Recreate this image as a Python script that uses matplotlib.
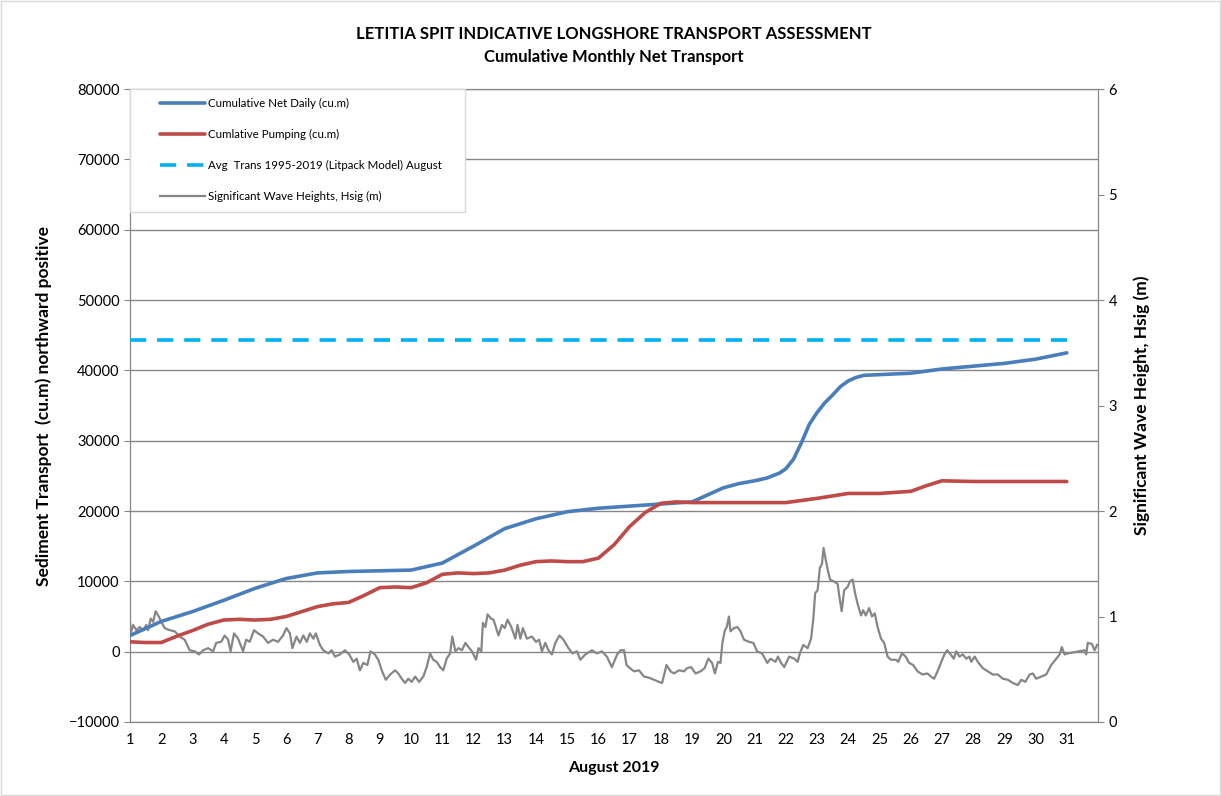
import matplotlib.pyplot as plt
from matplotlib.patches import Rectangle

plt.rcParams['font.family'] = ['Lato', 'DejaVu Sans']

# cumulative net daily transport (cu.m)
net_day = [1, 2, 3, 4, 5, 6, 7, 8, 9, 10, 11, 12, 13, 14, 15, 16, 17, 18, 19, 20,
           20.5, 21, 21.4, 21.8, 22, 22.25, 22.5, 22.75, 23, 23.25, 23.5, 23.75, 24,
           24.25, 24.5, 25, 26, 27, 28, 29, 30, 31]
net_vol = [2300, 4300, 5700, 7300, 9000, 10400, 11200, 11400, 11500, 11600, 12600,
           15000, 17500, 18900, 19900, 20400, 20700, 21000, 21300, 23300, 23900,
           24300, 24700, 25400, 26000, 27400, 29700, 32300, 34000, 35400, 36500,
           37700, 38500, 39000, 39300, 39400, 39600, 40200, 40600, 41000, 41600, 42500]

# cumulative pumping (cu.m)
pump_day = [1, 1.5, 2, 2.5, 3, 3.5, 4, 4.5, 5, 5.5, 6, 6.5, 7, 7.5, 8, 8.5, 9, 9.5,
            10, 10.5, 11, 11.5, 12, 12.5, 13, 13.5, 14, 14.5, 15, 15.5, 16, 16.5, 17,
            17.5, 18, 18.5, 19, 20, 21, 22, 23, 24, 25, 26, 26.5, 27, 28, 31]
pump_vol = [1400, 1300, 1300, 2200, 3000, 3900, 4500, 4600, 4500, 4600, 5000, 5700,
            6400, 6800, 7000, 8000, 9100, 9200, 9100, 9800, 11000, 11200, 11100, 11200,
            11600, 12300, 12800, 12900, 12800, 12800, 13300, 15200, 17800, 19800,
            21100, 21300, 21200, 21200, 21200, 21200, 21800, 22500, 22500, 22800,
            23600, 24300, 24200, 24200]

# long-term average transport for August
avg_day = [1, 31]
avg_vol = [44300, 44300]

# significant wave height (m)
wave_day = [1.00, 1.02, 1.10, 1.20, 1.31, 1.42, 1.52, 1.58, 1.66, 1.74, 1.82, 1.92,
            2.00, 2.11, 2.27, 2.43, 2.59, 2.75, 2.91, 3.07, 3.21, 3.34, 3.50, 3.66,
            3.76, 3.92, 4.03, 4.14, 4.22, 4.33, 4.46, 4.62, 4.72, 4.83, 4.97, 5.10,
            5.26, 5.42, 5.58, 5.74, 5.90, 6.01, 6.12, 6.20, 6.33, 6.44, 6.55, 6.66,
            6.76, 6.87, 6.95, 7.08, 7.19, 7.35, 7.46, 7.56, 7.72, 7.88, 8.02, 8.15,
            8.26, 8.36, 8.47, 8.60, 8.70, 8.84, 8.95, 9.06, 9.19, 9.33, 9.49, 9.59,
            9.70, 9.81, 9.91, 10.02, 10.13, 10.26, 10.39, 10.50, 10.61, 10.71, 10.82,
            10.93, 11.03, 11.14, 11.25, 11.32, 11.42, 11.52, 11.63, 11.74, 11.84,
            11.95, 12.08, 12.16, 12.25, 12.30, 12.38, 12.45, 12.56, 12.64, 12.80,
            12.91, 13.00, 13.09, 13.21, 13.34, 13.41, 13.50, 13.58, 13.71, 13.87,
            14.00, 14.10, 14.19, 14.30, 14.40, 14.51, 14.62, 14.75, 14.88, 15.04,
            15.17, 15.31, 15.42, 15.58, 15.79, 15.95, 16.11, 16.27, 16.43, 16.60,
            16.71, 16.82, 16.90, 17.01, 17.14, 17.30, 17.46, 17.62, 17.78, 17.94,
            18.04, 18.18, 18.31, 18.42, 18.58, 18.74, 18.84, 18.97, 19.11, 19.27,
            19.40, 19.52, 19.64, 19.73, 19.83, 19.91, 19.97, 20.05, 20.11, 20.18,
            20.23, 20.34, 20.45, 20.55, 20.66, 20.82, 20.96, 21.08, 21.24, 21.41,
            21.51, 21.67, 21.75, 21.85, 21.95, 22.11, 22.27, 22.38, 22.45, 22.56,
            22.70, 22.81, 22.88, 22.94, 23.02, 23.09, 23.16, 23.21, 23.29, 23.36,
            23.42, 23.55, 23.66, 23.71, 23.79, 23.87, 23.98, 24.05, 24.14, 24.22,
            24.30, 24.41, 24.48, 24.56, 24.67, 24.76, 24.85, 24.94, 25.05, 25.15,
            25.26, 25.37, 25.53, 25.60, 25.72, 25.84, 25.95, 26.08, 26.22, 26.38,
            26.54, 26.65, 26.75, 26.86, 26.98, 27.08, 27.17, 27.28, 27.38, 27.46,
            27.56, 27.67, 27.78, 27.88, 27.94, 28.05, 28.15, 28.31, 28.47, 28.63,
            28.79, 28.95, 29.11, 29.27, 29.43, 29.54, 29.67, 29.81, 29.91, 30.02,
            30.18, 30.34, 30.50, 30.66, 30.77, 30.84, 30.93, 31.03, 31.57, 31.62,
            31.67, 31.80, 31.89, 31.97]
wave_hs = [0.95, 0.84, 0.92, 0.87, 0.90, 0.87, 0.92, 0.87, 0.98, 0.95, 1.05, 1.00,
           0.95, 0.89, 0.87, 0.86, 0.81, 0.78, 0.68, 0.67, 0.64, 0.68, 0.70, 0.67,
           0.75, 0.76, 0.82, 0.78, 0.67, 0.84, 0.79, 0.67, 0.78, 0.76, 0.87, 0.84,
           0.81, 0.75, 0.78, 0.76, 0.82, 0.89, 0.84, 0.70, 0.81, 0.75, 0.82, 0.76,
           0.84, 0.79, 0.84, 0.73, 0.68, 0.65, 0.68, 0.62, 0.64, 0.68, 0.64, 0.57,
           0.60, 0.49, 0.56, 0.54, 0.67, 0.64, 0.59, 0.49, 0.40, 0.45, 0.49, 0.46,
           0.41, 0.37, 0.41, 0.38, 0.43, 0.38, 0.43, 0.52, 0.65, 0.59, 0.57,
           0.52, 0.49, 0.60, 0.65, 0.81, 0.67, 0.70, 0.68, 0.75, 0.71,
           0.67, 0.59, 0.70, 0.67, 0.94, 0.90, 1.02, 0.98, 0.97, 0.82,
           0.92, 0.89, 0.97, 0.90, 0.79, 0.92, 0.79, 0.89, 0.79, 0.81,
           0.76, 0.78, 0.67, 0.75, 0.68, 0.64, 0.75, 0.82, 0.78, 0.70,
           0.65, 0.67, 0.59, 0.64, 0.68, 0.65, 0.67, 0.62, 0.52, 0.64,
           0.68, 0.68, 0.54, 0.51, 0.48, 0.49, 0.43, 0.42, 0.40, 0.38,
           0.37, 0.54, 0.48, 0.46, 0.49, 0.48, 0.51, 0.52, 0.46, 0.48,
           0.51, 0.60, 0.56, 0.46, 0.57, 0.56, 0.75, 0.87, 0.90, 1.00,
           0.86, 0.89, 0.90, 0.86, 0.78, 0.76, 0.75, 0.67, 0.65, 0.56,
           0.60, 0.57, 0.62, 0.56, 0.52, 0.62, 0.60, 0.57, 0.65, 0.73,
           0.70, 0.79, 0.97, 1.22, 1.25, 1.46, 1.50, 1.65, 1.52, 1.42,
           1.35, 1.33, 1.31, 1.20, 1.05, 1.25, 1.28, 1.33, 1.35, 1.22,
           1.12, 1.01, 1.06, 1.01, 1.08, 1.00, 1.03, 0.90, 0.79, 0.75,
           0.62, 0.59, 0.59, 0.57, 0.65, 0.62, 0.56, 0.54, 0.48, 0.45,
           0.46, 0.43, 0.41, 0.48, 0.57, 0.64, 0.68, 0.64, 0.60, 0.67,
           0.62, 0.64, 0.60, 0.62, 0.57, 0.62, 0.57, 0.51, 0.48, 0.45,
           0.45, 0.41, 0.40, 0.37, 0.35, 0.40, 0.38, 0.45, 0.46, 0.41,
           0.43, 0.45, 0.54, 0.60, 0.64, 0.71, 0.64, 0.65, 0.68, 0.64,
           0.75, 0.74, 0.68, 0.73]

day_ticks = list(range(1, 32))

fig = plt.figure(figsize=(12.21, 7.96), dpi=100)
ax = fig.add_axes([0.1065, 0.093, 0.7928, 0.795])
fig.patches.append(Rectangle((0.001, 0.001), 0.998, 0.998, transform=fig.transFigure,
                             fill=False, edgecolor='#d9d9d9', linewidth=1))

grid_col = '#868686'
ax.set_xlim(1, 32)
ax.set_ylim(-10000, 80000)
ax.set_yticks(range(-10000, 80001, 10000))
ax.set_xticks(day_ticks)
ax.tick_params(axis='x', length=0, pad=8, labelsize=10.5)
ax.tick_params(axis='y', direction='out', length=4, color=grid_col, labelsize=10.5)
ax.grid(axis='y', color=grid_col, linewidth=1)
for s in ax.spines.values():
    s.set_color(grid_col)

ax2 = ax.twinx()
ax2.set_ylim(0, 6)
ax2.set_yticks(range(0, 7))
ax2.tick_params(axis='y', direction='out', length=4, color=grid_col, labelsize=10.5)
for s in ax2.spines.values():
    s.set_color(grid_col)

l1, = ax.plot(net_day, net_vol, color='#4a7ebb', lw=2.6, label='Cumulative Net Daily (cu.m)',
              solid_capstyle='round', solid_joinstyle='round', zorder=4)
l2, = ax.plot(pump_day, pump_vol, color='#be4b48', lw=2.6, label='Cumlative Pumping (cu.m)',
              solid_capstyle='round', solid_joinstyle='round', zorder=4)
l3, = ax.plot(avg_day, avg_vol, color='#00b0f0', lw=2.6, dashes=(4.5, 3),
              label='Avg  Trans 1995-2019 (Litpack Model) August', zorder=4)
l4, = ax2.plot(wave_day, wave_hs, color='#868686', lw=1.6,
               label='Significant Wave Heights, Hsig (m)')
ax.set_zorder(ax2.get_zorder() + 1)
ax.patch.set_visible(False)

# legend box (Excel style, wide side padding)
ax.add_patch(Rectangle((0, 1 - 123 / 633), 335 / 968, 123 / 633, transform=ax.transAxes,
                       facecolor='white', edgecolor='#d9d9d9', linewidth=1, zorder=5,
                       clip_on=False))
leg = ax.legend(handles=[l1, l2, l3, l4], loc='upper left',
                bbox_to_anchor=(30 / 968, 1 - 9 / 633), fontsize=8.3, frameon=False,
                handlelength=3.9, handletextpad=0.25, labelspacing=1.72, borderpad=0,
                borderaxespad=0)
leg.set_zorder(6)

ax.set_ylabel('Sediment Transport  (cu.m) northward positive', fontsize=12.5,
              fontweight='bold', labelpad=12)
ax2.set_ylabel('Significant Wave Height, Hsig (m)', fontsize=12.5, fontweight='bold',
               labelpad=12)
ax.set_xlabel('August 2019', fontsize=11.5, fontweight='bold', labelpad=10)
fig.text(0.503, 0.957, 'LETITIA SPIT INDICATIVE LONGSHORE TRANSPORT ASSESSMENT',
         ha='center', va='center', fontsize=12, fontweight='bold')
fig.text(0.503, 0.928, 'Cumulative Monthly Net Transport', ha='center', va='center',
         fontsize=12, fontweight='bold')

fig.savefig('out.png', dpi=100)
